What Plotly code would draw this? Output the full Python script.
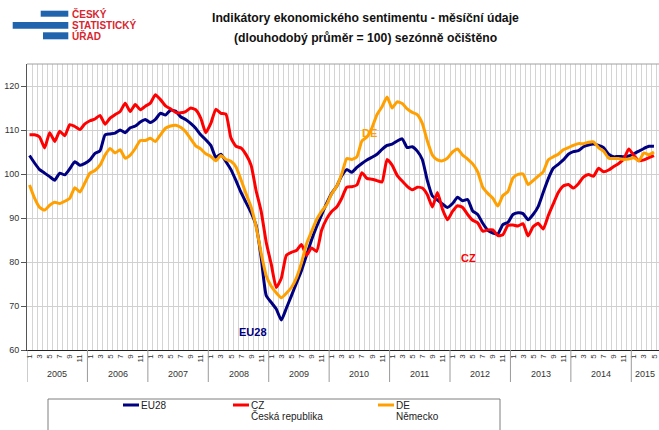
import plotly.graph_objects as go

# ---------------- data (monthly, Jan 2005 .. May 2015) ----------------
years = [2005, 2006, 2007, 2008, 2009, 2010, 2011, 2012, 2013, 2014, 2015]
month_tick_labels = ["1", "3", "5", "7", "9", "11"]

eu28 = [104.2, 102.5, 101.0, 100.2, 99.4, 98.6, 100.2, 99.8, 101.2, 102.8, 102.0, 102.4,
        103.2, 104.7, 105.3, 108.9, 109.1, 109.3, 110.0, 109.4, 110.5, 110.9, 111.8, 112.4,
        111.7, 112.4, 113.8, 113.4, 114.5, 114.3, 113.0, 112.4, 111.5, 110.4, 108.9, 107.8,
        106.5, 103.8, 104.5, 102.8, 101.0, 98.5, 95.8, 93.5, 91.2, 88.3, 81.0, 72.4,
        70.8, 69.3, 66.8, 69.5, 72.3, 75.2, 78.0, 81.5, 85.0, 88.0, 90.7, 93.3,
        95.6, 97.2, 99.6, 101.0, 100.4, 101.5, 102.4, 103.2, 103.8, 104.5, 105.6, 106.5,
        106.8, 107.5, 108.0, 106.0, 106.2, 105.2, 103.3, 98.5, 95.0, 94.1, 93.2, 92.4,
        93.3, 94.7, 93.9, 94.2, 91.6, 90.8, 88.8, 87.2, 86.6, 86.4, 88.5, 89.0,
        90.8, 91.2, 91.0, 89.6, 90.8, 92.6, 95.8, 98.9, 101.3, 102.2, 103.2, 104.5,
        105.1, 105.3, 106.2, 106.6, 106.8, 106.5, 106.0, 104.5, 103.9, 104.0, 103.9, 104.1,
        104.6, 105.2, 105.8, 106.3, 106.3]

cz = [108.9, 108.9, 108.4, 105.9, 109.4, 107.4, 109.7, 108.7, 111.2, 110.8, 110.1, 111.4,
      112.1, 112.5, 113.3, 111.3, 112.7, 113.5, 114.2, 116.1, 114.2, 115.8, 114.6, 115.4,
      116.1, 118.0, 116.9, 115.5, 114.8, 114.0, 113.9, 114.2, 115.0, 114.6, 112.7, 109.4,
      111.5, 114.7, 113.8, 113.6, 108.2, 106.3, 105.9, 104.4, 102.0, 96.2, 91.5, 84.5,
      79.5, 74.2, 76.3, 81.5, 82.2, 82.6, 84.0, 81.5, 83.2, 82.4, 87.2, 89.8,
      91.5, 92.5, 94.5, 97.0, 97.1, 97.5, 100.3, 99.0, 98.8, 98.5, 98.2, 103.3,
      102.0, 99.7, 98.4, 97.2, 96.4, 97.0, 96.8, 95.3, 92.5, 95.8, 92.0, 89.6,
      91.5, 92.8, 92.4, 90.8, 89.5, 88.9, 87.0, 87.3, 87.3, 86.0, 86.2, 88.3,
      88.4, 88.2, 88.7, 85.9, 88.0, 88.8, 87.5, 90.5, 93.2, 95.8, 97.3, 97.6,
      96.8, 97.8, 99.3, 99.9, 99.5, 101.3, 100.5, 100.9, 101.7, 102.4, 103.4, 105.7,
      104.2, 103.0, 103.2, 103.7, 104.2]

de = [97.5, 94.5, 92.4, 91.8, 92.9, 93.6, 93.3, 93.8, 94.5, 96.9, 95.9, 98.0,
      100.2, 100.8, 102.0, 104.3, 105.8, 104.8, 105.5, 103.6, 104.3, 105.8, 107.6, 107.6,
      108.1, 107.4, 108.9, 110.4, 110.9, 111.1, 110.6, 109.6, 108.0, 106.4, 105.7, 104.6,
      104.0, 103.0, 104.2, 103.3, 102.9, 101.6, 98.7, 95.5, 92.5, 88.0, 82.0, 76.9,
      74.5, 73.0, 71.9, 72.9, 74.2, 76.4, 79.8, 84.1, 86.9, 89.6, 91.5, 93.0,
      95.5, 97.2, 100.0, 103.5, 103.3, 103.9, 107.5, 108.4, 110.5, 113.5, 115.3, 117.5,
      115.0, 116.4, 116.0, 114.8, 114.0, 113.5, 111.5, 107.5, 104.3, 103.2, 103.0, 103.6,
      105.0, 105.7, 104.3, 103.4, 102.3, 100.5, 97.0, 95.6, 94.5, 92.7, 95.1, 96.0,
      99.1, 99.9, 100.0, 97.6, 98.5, 99.5, 100.5, 103.2, 103.9, 104.5, 105.5, 106.0,
      106.5, 106.9, 106.9, 107.2, 107.3, 106.0, 105.2, 103.6, 103.5, 103.5, 103.3, 103.4,
      103.7, 103.0, 104.8, 104.4, 105.0]

series_names = ["EU28", "CZ", "DE"]
series_sub = ["", "Česká republika", "Německo"]
series_colors = ["#000080", "#FF0000", "#FFA000"]
title_lines = ["Indikátory ekonomického sentimentu - měsíční údaje",
               "(dlouhodobý průměr = 100) sezónně očištěno"]

# ---------------- layout helpers (pixel -> paper) ----------------
W, H = 659, 430
L, R, T, B = 27, 0, 64, 80
PW, PH = W - L - R, H - T - B


def px(x):
    return (x - L) / PW


def py(y):
    return (H - B - y) / PH


n = len(eu28)
xs = list(range(n))

fig = go.Figure()
for name, vals, col in zip(series_names, [eu28, cz, de], series_colors):
    fig.add_trace(go.Scatter(x=xs, y=vals, mode="lines", name=name,
                             line=dict(color=col, width=3, shape="spline", smoothing=0.5),
                             showlegend=False, hoverinfo="x+y"))

# tick labels at odd months
tickvals, ticktext = [], []
for k in range(n):
    m = k % 12 + 1
    if m % 2 == 1:
        tickvals.append(k)
        ticktext.append(str(m))

FONT = "Liberation Sans, Arial, sans-serif"

fig.update_layout(
    width=W, height=H,
    margin=dict(l=L, r=R, t=T, b=B, autoexpand=False),
    paper_bgcolor="white", plot_bgcolor="white",
    font=dict(family=FONT, color="#333333", size=9),
    xaxis=dict(range=[-0.5, 125.0], tickmode="array", tickvals=tickvals, ticktext=ticktext,
               tickangle=-90, tickfont=dict(size=8, family=FONT, color="#333"),
               ticklabeloverflow="allow",
               showgrid=False, zeroline=False, showline=True, linecolor="#222", linewidth=1,
               ticks="", automargin=False,
               minor=dict(tick0=-0.5, dtick=1, showgrid=True, gridcolor="#d4d4d4", gridwidth=1,
                          ticks="")),
    yaxis=dict(range=[60, 125], tickmode="array", tickvals=[60, 70, 80, 90, 100, 110, 120],
               showgrid=True, gridcolor="#d0d0d0", gridwidth=1, zeroline=False, automargin=False,
               showline=True, linecolor="#555", linewidth=1, ticks="outside", ticklen=5,
               tickcolor="#555", tickfont=dict(size=9, family=FONT, color="#333")),
)

shapes = []
# top border of the plot area
shapes.append(dict(type="line", xref="paper", yref="paper", x0=0, x1=1, y0=1, y1=1,
                   line=dict(color="#a0a0a0", width=1)))
# year separators and year labels
annotations = []
for j, yr in enumerate(years):
    b = -0.5 + 12 * j
    shapes.append(dict(type="line", xref="x", yref="paper", x0=b, x1=b, y0=0, y1=py(382),
                       line=dict(color="#9a9a9a", width=1)))
    last = min(12 * j + 11, n - 1)
    if yr == years[-1]:
        annotations.append(dict(x=px(657), y=py(374), xref="paper", yref="paper",
                                text=str(yr), showarrow=False, yanchor="middle", xanchor="right",
                                font=dict(size=9, family=FONT, color="#333")))
    else:
        annotations.append(dict(x=(12 * j + last) / 2, y=py(374), xref="x", yref="paper",
                                text=str(yr), showarrow=False, yanchor="middle",
                                font=dict(size=9, family=FONT, color="#333")))

# in-chart series labels
annotations += [
    dict(x=67.5, y=109.4, xref="x", yref="y", text="<b>DE</b>", showarrow=False,
         font=dict(size=11, color=series_colors[2], family=FONT)),
    dict(x=44.3, y=64.1, xref="x", yref="y", text="<b>EU28</b>", showarrow=False,
         font=dict(size=11, color=series_colors[0], family=FONT)),
    dict(x=87.1, y=80.9, xref="x", yref="y", text="<b>CZ</b>", showarrow=False,
         font=dict(size=11, color=series_colors[1], family=FONT)),
]

# title
for k, (txt, yy) in enumerate(zip(title_lines, [18, 38])):
    annotations.append(dict(x=px(365), y=py(yy), xref="paper", yref="paper", text="<b>" + txt + "</b>",
                            showarrow=False, xanchor="center", yanchor="middle",
                            font=dict(size=12.2, color="#111", family=FONT)))

# logo
logo_blue = "#1F64AD"
for (x0, y0, x1, y1) in [(40.7, 10.7, 68.3, 16.7), (12.7, 22.0, 68.3, 28.7), (43.0, 32.3, 68.3, 39.3)]:
    shapes.append(dict(type="rect", xref="paper", yref="paper", x0=px(x0), x1=px(x1), y0=py(y0), y1=py(y1),
                       fillcolor=logo_blue, line=dict(width=0)))
for txt, yy in [("ČESKÝ", 13.7), ("STATISTICKÝ", 25.3), ("ÚŘAD", 36.0)]:
    annotations.append(dict(x=px(69.5), y=py(yy), xref="paper", yref="paper", text="<b>" + txt + "</b>",
                            showarrow=False, xanchor="left", yanchor="middle",
                            font=dict(size=10, color="#D7262F", family=FONT)))

# legend box (drawn)
shapes.append(dict(type="rect", xref="paper", yref="paper", x0=px(48), x1=px(500), y0=py(399), y1=py(445),
                   line=dict(color="#7f7f7f", width=1), fillcolor="rgba(0,0,0,0)"))
for name, sub, col, lx in zip(series_names, series_sub, series_colors, [123, 233, 378]):
    shapes.append(dict(type="line", xref="paper", yref="paper", x0=px(lx), x1=px(lx + 16),
                       y0=py(405), y1=py(405), line=dict(color=col, width=3)))
    annotations.append(dict(x=px(lx + 16), y=py(405), xref="paper", yref="paper", text=name,
                            showarrow=False, xanchor="left", yanchor="middle",
                            font=dict(size=10, color="#222", family=FONT)))
    if sub:
        annotations.append(dict(x=px(lx + 16), y=py(416), xref="paper", yref="paper", text=sub,
                                showarrow=False, xanchor="left", yanchor="middle",
                                font=dict(size=10, color="#222", family=FONT)))

fig.update_layout(shapes=shapes, annotations=annotations)
fig.write_html("out.html", config={"displayModeBar": False},
               post_script="document.body.style.margin='0';document.body.style.overflow='hidden';")
